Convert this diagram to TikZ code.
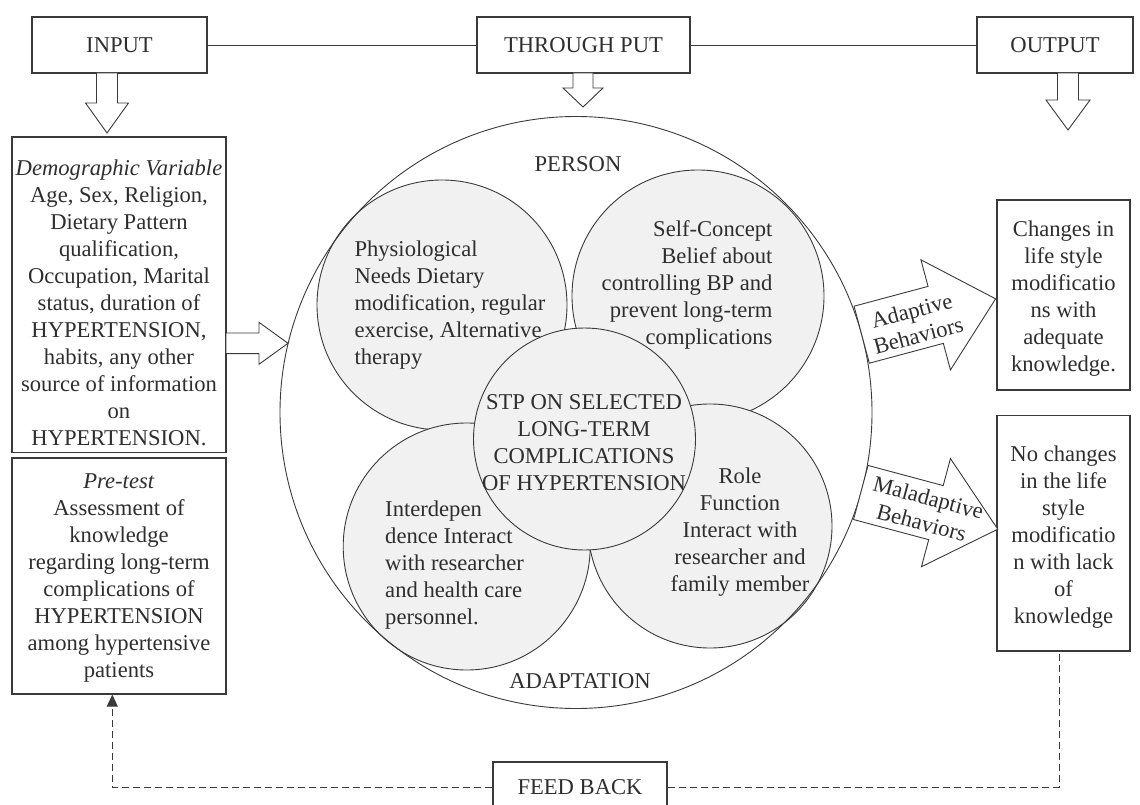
\documentclass[tikz,border=0pt]{standalone}
\usepackage{fontspec}
\setmainfont{Liberation Serif}
\usetikzlibrary{arrows.meta,calc}
\definecolor{ln}{HTML}{3A3A3A}
\definecolor{tx}{HTML}{2E2E2E}
\definecolor{cf}{HTML}{F1F1F1}
\newcommand{\hollowarrow}[6]{%
  \begin{scope}[shift={#1},rotate=#2]
    \filldraw[harrow] (0,-#4) -- ({#3-#6},-#4) -- ({#3-#6},-#5) -- (#3,0) -- ({#3-#6},#5) -- ({#3-#6},#4) -- (0,#4) -- cycle;
  \end{scope}}
\begin{document}
\begin{tikzpicture}[x=1pt,y=-1pt,
  every node/.style={font=\fontsize{22.6}{27}\selectfont, text=tx},
  topbox/.style={draw=ln, line width=1.1pt, minimum width=#1, minimum height=56, inner sep=0},
  panel/.style={draw=ln, line width=1.1pt, inner sep=0},
  bubble/.style={circle, draw=ln, fill=cf, line width=0.9pt, inner sep=0},
  harrow/.style={draw=ln, fill=white, line width=0.9pt, line join=miter},
  fb/.style={draw=ln, line width=0.9pt, dash pattern=on 7pt off 4pt},
  link/.style={draw=ln, line width=0.9pt}]
\useasboundingbox (0,0) rectangle (1140,805);

% top row
\node[topbox=175] (input) at (119.5,45) {INPUT};
\node[topbox=213] (thru) at (583.5,45) {THROUGH PUT};
\node[topbox=156] (output) at (1055,45) {OUTPUT};
\draw[link] (input.east) -- (thru.west);
\draw[link] (thru.east) -- (output.west);

% down arrows
\hollowarrow{(107,73)}{-90}{60}{10.5}{21.5}{30}
\hollowarrow{(583,73)}{-90}{34}{10}{20}{19}
\hollowarrow{(1068,73)}{-90}{57}{10.5}{22}{30}

% left boxes
\node[panel, minimum width=214, minimum height=315.7] (demo) at (119,294.85) {};
\node[anchor=north, align=center] (demotxt) at (119,156.2) {\textit{Demographic Variable}\\Age, Sex, Religion,\\Dietary Pattern\\qualification,\\Occupation, Marital\\status, duration of\\HYPERTENSION,\\habits, any other\\source of information\\on\\HYPERTENSION.};
\node[panel, minimum width=214, minimum height=236] (pre) at (119,576) {};
\node[anchor=north, align=center] (pretxt) at (119,470) {\textit{Pre-test}\\Assessment of\\knowledge\\regarding long-term\\complications of\\HYPERTENSION\\among hypertensive\\patients};

% right boxes
\node[panel, minimum width=133, minimum height=190] (chg) at (1063.5,295) {};
\node[anchor=north, align=center] (chgtxt) at (1063.5,217.2) {Changes in\\life style\\modificatio\\ns with\\adequate\\knowledge.};
\node[panel, minimum width=133, minimum height=235.3] (nochg) at (1063.5,533.35) {};
\node[anchor=north, align=center] (nochgtxt) at (1063.5,442.5) {No changes\\in the life\\style\\modificatio\\n with lack\\of\\knowledge};

% circles
\node[bubble, minimum size=250] (phys) at (442,305) {};
\node[bubble, minimum size=252] (self) at (698,296) {};
\node[bubble, minimum size=247] (inter) at (466.7,546.5) {};
\node[bubble, minimum size=244] (role) at (710,526) {};
\node[bubble, minimum size=222] (stp) at (584.5,439) {};
\node[circle, draw=ln, line width=0.9pt, inner sep=0, minimum size=592] (big) at (576,412.5) {};

% circle texts
\node[anchor=base] (person) at (578,172) {PERSON};
\node[anchor=base] (adapt) at (580,688) {ADAPTATION};
\node[anchor=north west, align=left] (phystxt) at (351,237.5) {Physiological\\Needs Dietary\\modification, regular\\exercise, Alternative\\therapy};
\node[anchor=north east, align=right] (selftxt) at (776,217.5) {Self-Concept\\Belief about\\controlling BP and\\prevent long-term\\complications};
\node[anchor=north, align=center] (stptxt) at (584,391) {STP ON SELECTED\\LONG-TERM\\COMPLICATIONS\\OF HYPERTENSION};
\node[anchor=north west, align=left] (intertxt) at (381.7,497.5) {Interdepen\\dence Interact\\with researcher\\and health care\\personnel.};
\node[anchor=north, align=center] (roletxt) at (740,464.6) {Role\\Function\\Interact with\\researcher and\\family member};

% side arrows
\hollowarrow{(226,343.3)}{0}{62}{10.3}{21}{29}
\hollowarrow{(861.7,334.7)}{15}{138.6}{29.5}{57}{62}
\hollowarrow{(860.8,492.5)}{-15}{141.8}{28}{56}{64}
\node[rotate=15, align=center, font=\fontsize{22.6}{25.5}\selectfont] (adtxt) at (915,323) {Adaptive\\Behaviors};
\node[rotate=-15, align=center, font=\fontsize{22.6}{26}\selectfont] (maltxt) at (925,510) {Maladaptive\\Behaviors};

% feedback
\node[panel, minimum width=174, minimum height=50] (feed) at (580,787) {FEED BACK};
\coordinate (fbL) at (112.3,787);
\coordinate (fbR) at (1059,787);
\draw[fb, -{Triangle[length=12pt,width=11pt]}] (feed.west) -- (fbL) -- (fbL |- pre.south);
\draw[fb] (feed.east) -- (fbR) -- (fbR |- nochg.south);
\end{tikzpicture}
\end{document}
